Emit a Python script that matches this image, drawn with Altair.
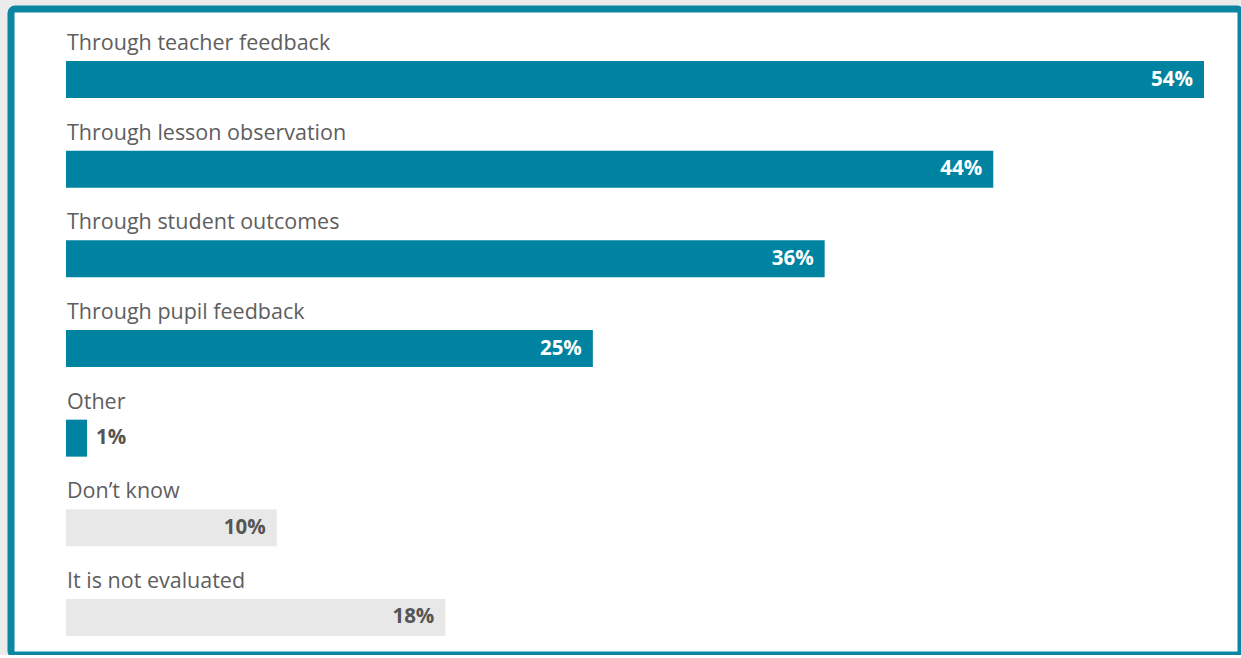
import altair as alt
import pandas as pd

categories = [
    "Through teacher feedback",
    "Through lesson observation",
    "Through student outcomes",
    "Through pupil feedback",
    "Other",
    "Don\u2019t know",
    "It is not evaluated",
]
values = [54, 44, 36, 25, 1, 10, 18]
groups = ["method", "method", "method", "method", "method", "none", "none"]

df = pd.DataFrame({"category": categories, "value": values, "group": groups})
df["label"] = df["value"].astype(str) + "%"

TEAL = "#0083a0"
GREY = "#e8e8e8"
TEXT = "#5e5e5e"

x = alt.X("value:Q", scale=alt.Scale(domain=[0, 54], range=[55, 1193]), axis=None)
y = alt.Y("category:N", sort=categories,
          scale=alt.Scale(range=[25.7, 653.3], paddingInner=0, paddingOuter=0),
          axis=None)

base = alt.Chart(df)

bars = base.mark_bar(height=37).encode(
    x=x, y=y,
    color=alt.Color("group:N", scale=alt.Scale(domain=["method", "none"], range=[TEAL, GREY]), legend=None),
)

cat_labels = base.mark_text(
    align="left", baseline="alphabetic", dy=-29.5, font="Open Sans", fontSize=21.5, color=TEXT
).encode(x=alt.value(56), y=y, text="category:N")

inside = base.transform_filter("datum.value >= 5").mark_text(
    align="right", baseline="middle", dx=-11, font="Open Sans", fontSize=20.5, fontWeight="bold"
).encode(
    x=x, y=y, text="label:N",
    color=alt.Color("group:N", scale=alt.Scale(domain=["method", "none"], range=["#ffffff", "#555555"]), legend=None),
)

outside = base.transform_filter("datum.value < 5").mark_text(
    align="left", baseline="middle", dx=9, font="Open Sans", fontSize=20.5, fontWeight="bold", color="#555555"
).encode(x=x, y=y, text="label:N")

chart = alt.layer(bars, cat_labels, inside, outside).resolve_scale(color="independent").properties(
    width=1230, height=646,
    padding={"left": 11, "top": 9, "right": 0, "bottom": 0},
    autosize=alt.AutoSizeParams(type="none"),
    background="#ebebeb",
).configure_view(
    fill="#ffffff", stroke="#0a86a3", strokeWidth=7, cornerRadius=4
)

chart.save("out.html", embed_options={"renderer": "svg", "actions": False})
